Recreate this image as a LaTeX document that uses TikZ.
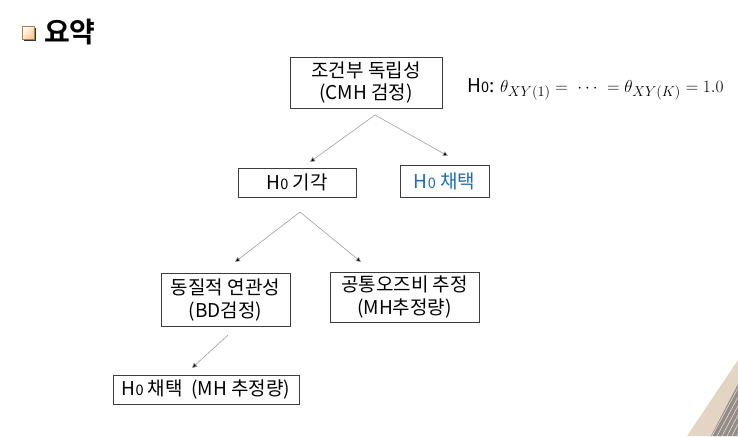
\documentclass[tikz,border=0pt]{standalone}
\usepackage{fontspec}
\setmainfont{Noto Sans CJK KR}
\newfontfamily\krbold{Noto Sans CJK KR Bold}
\usetikzlibrary{arrows.meta}
\definecolor{boxline}{RGB}{60,60,60}
\definecolor{bluetxt}{RGB}{30,110,180}
\definecolor{beige}{RGB}{228,212,196}
\definecolor{photo}{RGB}{150,140,135}
\newcommand{\Hzero}{H{\fontsize{14.5}{14.5}\selectfont 0}}
\begin{document}
\begin{tikzpicture}[x=1pt,y=-1pt,
  box/.style={draw=boxline,line width=0.9pt,inner sep=0pt,align=center,
    font=\fontsize{19}{22.5}\selectfont},
  conn/.style={draw=gray!75,line width=0.6pt,-{Triangle[length=5pt,width=5pt,fill=black]}}]
\useasboundingbox (0,0) rectangle (738,436);
\fill[white] (0,0) rectangle (738,436);
% title
\fill[black!80] (24,28) rectangle (36,41);
\shade[top color=white,bottom color=orange!45!white,shading angle=45] (22,26) rectangle (34,39);
\draw[orange!30!gray,line width=0.3pt] (22,26) rectangle (34,39);
\node[anchor=west,font=\krbold\fontsize{28}{28}\selectfont,inner sep=0pt] (title) at (44,32) {요약};
% nodes
\node[box,minimum width=152,minimum height=51] (cmh) at (366,82.5) {조건부 독립성\\(CMH 검정)};
\node[anchor=base west,inner sep=0pt,font=\fontsize{19}{19}\selectfont] (hyp) at (467,92)
  {\Hzero: $\theta_{XY(1)} = \;\cdots\; = \theta_{XY(K)} = 1.0$};
\node[box,minimum width=118,minimum height=29] (rej) at (297,182.5) {\Hzero{} 기각};
\node[box,minimum width=89,minimum height=32,text=bluetxt] (acc) at (444.5,181) {\Hzero{} 채택};
\node[box,minimum width=129,minimum height=53] (bd) at (225.5,300) {동질적 연관성\\(BD검정)};
\node[box,minimum width=149,minimum height=50] (mh) at (404.5,297) {공통오즈비 추정\\(MH추정량)};
\node[box,minimum width=186,minimum height=29] (fin) at (206,389.5) {\Hzero{} 채택~~(MH 추정량)};
% connectors
\coordinate (a1) at (375,115);
\coordinate (e1) at (310,162);
\coordinate (e2) at (448,156);
\coordinate (a2) at (300,212);
\coordinate (e3) at (235,262);
\coordinate (e4) at (361,262);
\coordinate (a3) at (228,335);
\coordinate (e5) at (192,368);
\draw[conn] (a1) -- (e1);
\draw[conn] (a1) -- (e2);
\draw[conn] (a2) -- (e3);
\draw[conn] (a2) -- (e4);
\draw[conn] (a3) -- (e5);
% corner decoration
\fill[beige] (687,436) -- (738,360) -- (738,436) -- cycle;
\fill[photo] (711,436) -- (738,384) -- (738,436) -- cycle;
\foreach \i in {0,...,5} {\draw[white!80!photo,line width=0.5pt] (712+\i*5,436) -- (738,388+\i*9);}
\end{tikzpicture}
\end{document}
